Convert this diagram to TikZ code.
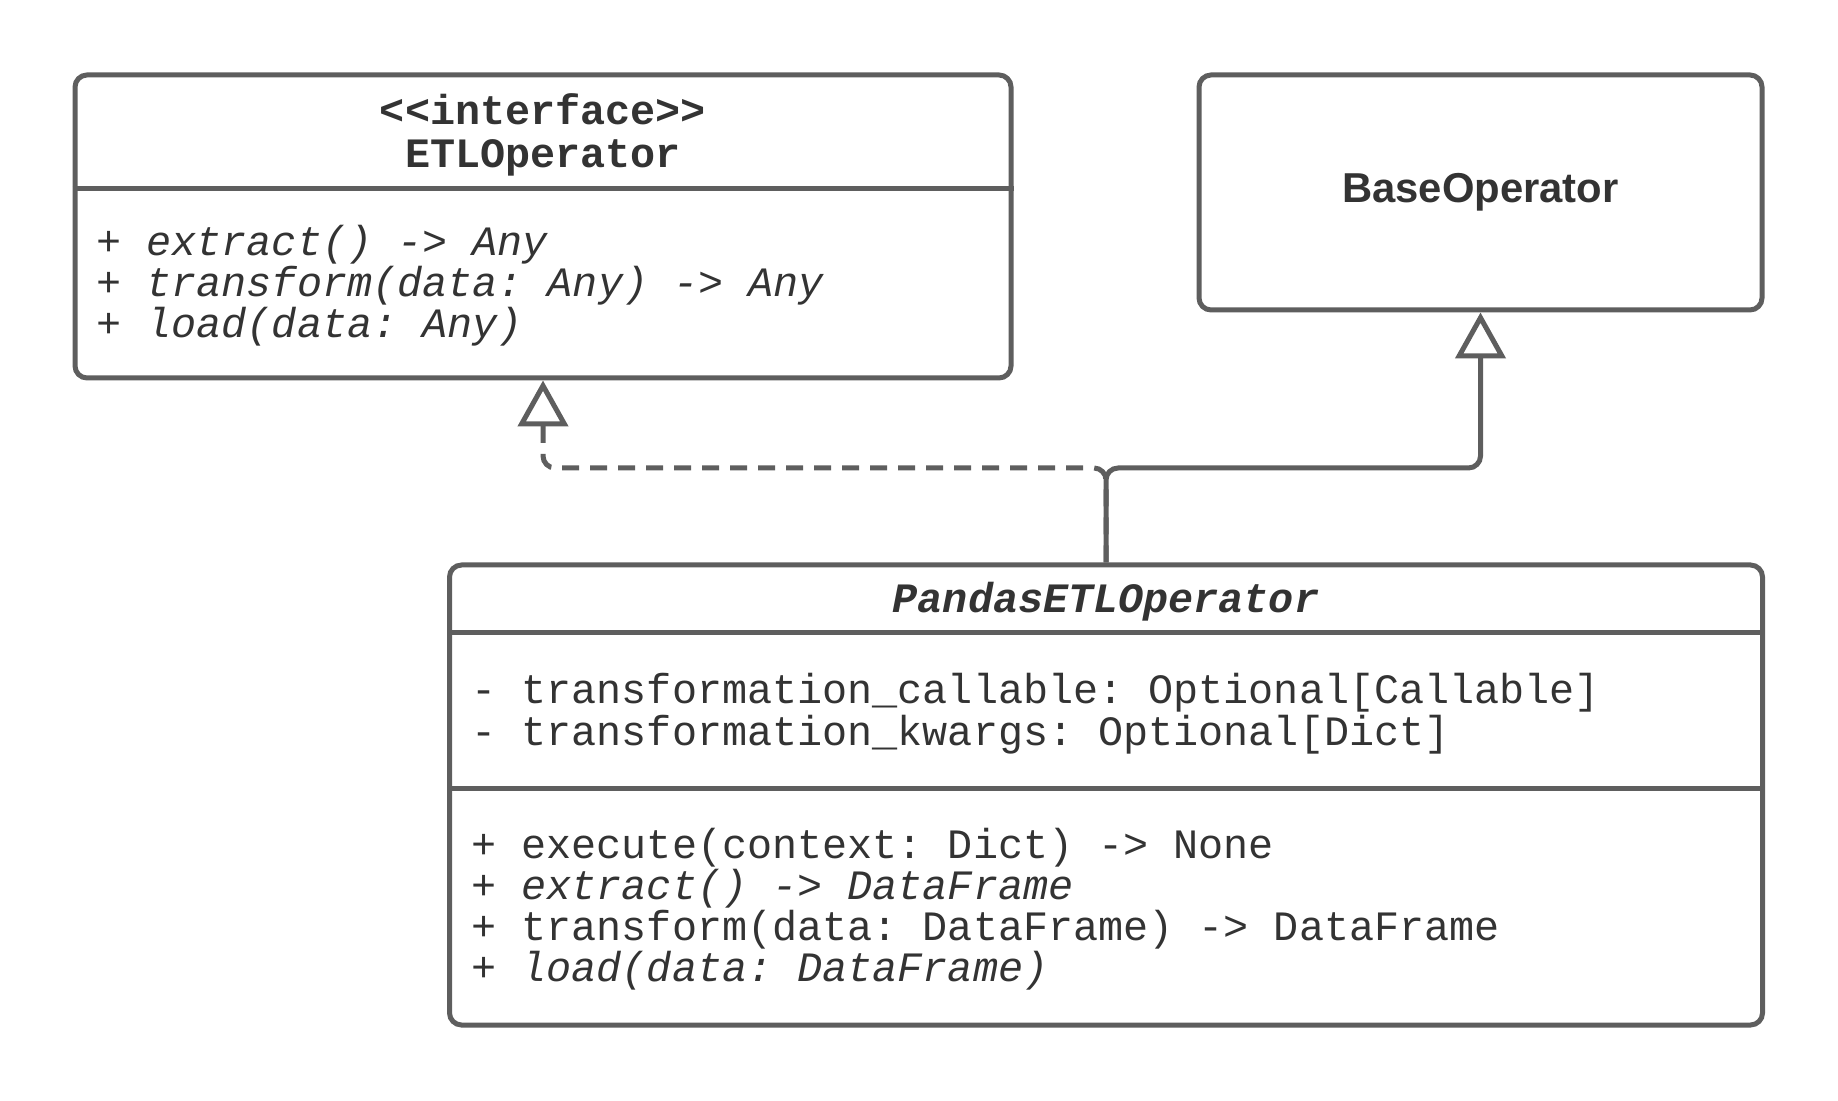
\documentclass[tikz,border=0pt]{standalone}
\usepackage{fontspec}
\setmainfont{Liberation Sans}
\setsansfont{Liberation Sans}
\setmonofont{Liberation Mono}
\usetikzlibrary{arrows.meta}
\definecolor{linegray}{HTML}{5E5E5E}
\definecolor{textgray}{HTML}{333333}
\newcommand{\umlsize}{\fontsize{20.9}{20.9}\selectfont}
\begin{document}
\begin{tikzpicture}[x=0.5pt, y=-0.5pt,
    classbox/.style={draw=linegray, line width=2.5pt, rounded corners=6pt, inner sep=0pt},
    classline/.style={draw=linegray, line width=2.5pt},
    member/.style={anchor=base west, inner sep=0pt, text=textgray, font=\umlsize\ttfamily},
    classname/.style={anchor=base, inner sep=0pt, text=textgray, font=\umlsize\ttfamily\bfseries},
    inherit/.style={draw=linegray, line width=2.5pt, rounded corners=6pt,
        -{Triangle[open, length=23pt, width=25pt]}},
    realize/.style={inherit, dash pattern=on 8.5pt off 5.5pt}]
            \useasboundingbox (0,0) rectangle (1838,1101);
            % draw the classes
            \node[classbox, minimum width=468pt, minimum height=151.5pt] (etl) at (543,226.5) {};
            \node[classbox, minimum width=281.5pt, minimum height=117.5pt, text=textgray,
                font=\umlsize\sffamily\bfseries] (base) at (1480.5,192.5) {BaseOperator};
            \node[classbox, minimum width=656.5pt, minimum height=230pt] (pandas) at (1106,795) {};
            % the compartments
            \draw[classline] (etl.west |- 0,189) -- (etl.east |- 0,189);
            \draw[classline] (pandas.west |- 0,633) -- (pandas.east |- 0,633);
            \draw[classline] (pandas.west |- 0,788) -- (pandas.east |- 0,788);
            % the names
            \node[classname] (etlh1) at (543,125) {<{}<interface>{}>};
            \node[classname] (etlh2) at (543,168) {ETLOperator};
            \node[classname, font=\umlsize\ttfamily\bfseries\itshape] (pandash) at (1106,613) {PandasETLOperator};
            % the members
            \node[member] (etl1) at (96,256) {+ \textit{extract() -> Any}};
            \node[member] (etl2) at (96,297) {+ \textit{transform(data: Any) -> Any}};
            \node[member] (etl3) at (96,338) {+ \textit{load(data: Any)}};

            \node[member] (pa1) at (471,704) {- transformation\_callable: Optional[Callable]};
            \node[member] (pa2) at (471,745) {- transformation\_kwargs: Optional[Dict]};

            \node[member] (pm1) at (471,858) {+ execute(context: Dict) -> None};
            \node[member] (pm2) at (471,899) {+ \textit{extract() -> DataFrame}};
            \node[member] (pm3) at (471,940) {+ transform(data: DataFrame) -> DataFrame};
            \node[member] (pm4) at (471,981) {+ \textit{load(data: DataFrame)}};

            % draw the arrows
            \coordinate (fork) at (pandas.north |- 0,468);
            \draw[realize] (pandas.north) -- (fork) -| (etl.south);
            \draw[inherit] (pandas.north) -- (fork) -| (base.south);
        \end{tikzpicture}
\end{document}
